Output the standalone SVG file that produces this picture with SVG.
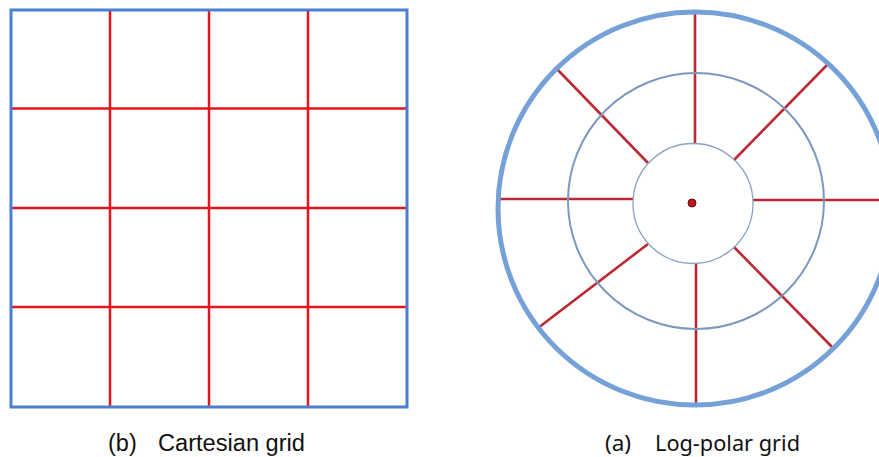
<svg xmlns="http://www.w3.org/2000/svg" width="879" height="457" viewBox="0 0 879 457">
<style>
.grid{stroke:#e3141c;stroke-width:2.5;fill:none}
.frame{stroke:#4a7fd0;stroke-width:3;fill:none}
.ray{stroke:#bb2a33;stroke-width:2.6;fill:none}
.lbl1{font-family:"Liberation Sans",Arial,sans-serif;font-size:23.5px;fill:#111}
.lbl2{font-family:"Noto Sans","Open Sans",sans-serif;font-size:22.5px;fill:#111}
</style>
<rect width="879" height="457" fill="#fff"/>
<g id="cartesian">
<path class="grid" d="M110 11V407M209 11V407M308 11V407M11 108.5H407M11 208H407M11 307H407"/>
<rect class="frame" x="11" y="10" width="396" height="397"/>
</g>
<g id="logpolar">
<g id="rays">
<line class="ray" x1="695" y1="144" x2="695" y2="12"/>
<line class="ray" x1="696" y1="263" x2="696" y2="405"/>
<line class="ray" x1="633" y1="199" x2="498" y2="199"/>
<line class="ray" x1="753" y1="200" x2="879" y2="200"/>
<line class="ray" x1="648" y1="163" x2="555" y2="67"/>
<line class="ray" x1="734" y1="160" x2="828" y2="64"/>
<line class="ray" x1="648" y1="244" x2="538" y2="328"/>
<line class="ray" x1="734" y1="247" x2="832" y2="347"/>
</g>
<ellipse cx="695" cy="208.5" rx="197" ry="196.5" fill="none" stroke="#76a0d8" stroke-width="5"/>
<circle cx="696" cy="201" r="128" fill="none" stroke="#7b98bd" stroke-width="2"/>
<circle cx="693" cy="203.5" r="60" fill="none" stroke="#8aa3c4" stroke-width="1.3"/>
<circle cx="692" cy="203" r="4" fill="#c0141c" stroke="#6a0a10" stroke-width="1"/>
</g>
<g id="labels">
<text class="lbl1" x="108" y="451">(b)</text>
<text class="lbl1" x="158" y="451" textLength="147" lengthAdjust="spacingAndGlyphs">Cartesian grid</text>
<text class="lbl2" x="605" y="451">(a)</text>
<text class="lbl2" x="655" y="451" textLength="145" lengthAdjust="spacingAndGlyphs">Log-polar grid</text>
</g>
</svg>
